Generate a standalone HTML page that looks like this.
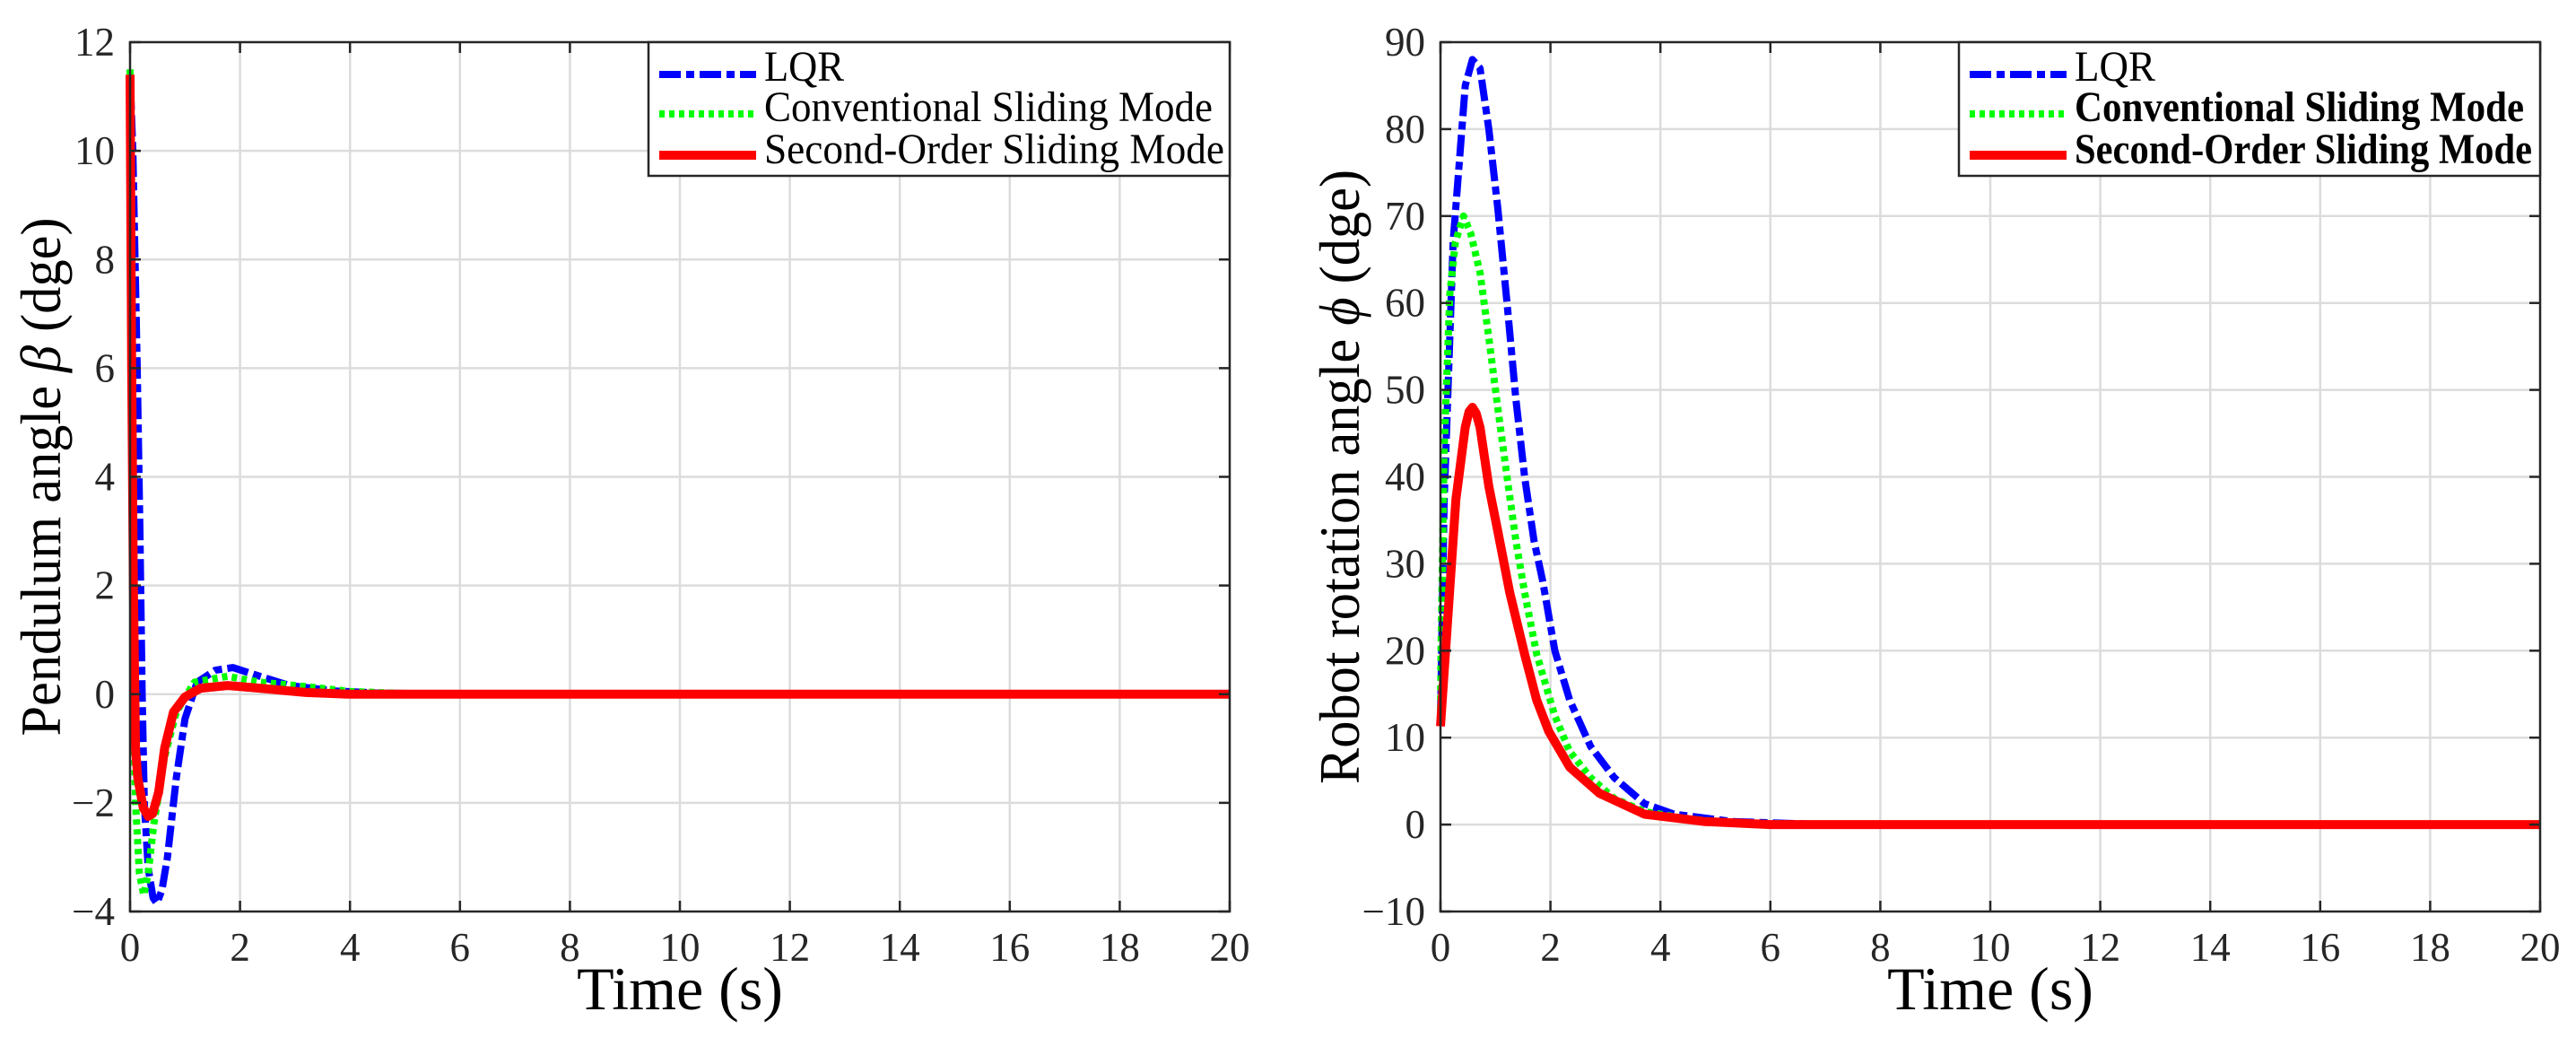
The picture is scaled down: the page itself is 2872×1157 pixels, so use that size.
<!DOCTYPE html>
<html><head><meta charset="utf-8"><style>
html,body{margin:0;padding:0;background:#fff;}
svg{display:block;font-family:"Liberation Serif",serif;}
</style></head><body>
<svg id="chart" width="2872" height="1157" viewBox="0 0 2872 1157" xmlns="http://www.w3.org/2000/svg"></svg>
<script>
// ---- data ----
const leftXTicks = [0,2,4,6,8,10,12,14,16,18,20];
const leftYTicks = [-4,-2,0,2,4,6,8,10,12];
const rightYTicks = [-10,0,10,20,30,40,50,60,70,80,90];
const seriesNames = ["LQR","Conventional Sliding Mode","Second-Order Sliding Mode"];

const betaLqrT = [0,0.05,0.13,0.18,0.22,0.26,0.33,0.42,0.49,0.58,0.68,0.84,1.0,1.22,1.55,1.87,2.36,2.9,3.7,4.5,6,20];
const betaLqrV = [11.4,10,6,3,0,-2,-3.2,-3.75,-3.85,-3.6,-3.0,-1.55,-0.45,0.22,0.44,0.49,0.33,0.16,0.06,0.02,0,0];
const betaCsmT = [0,0.03,0.06,0.1,0.17,0.25,0.33,0.43,0.63,0.84,1.17,1.77,2.36,3.2,4,5,6,20];
const betaCsmV = [11.5,6,0,-2,-3.3,-3.7,-3.3,-2.4,-1.15,-0.33,0.22,0.33,0.22,0.14,0.05,0.01,0,0];
const betaSsmT = [0,0.03,0.06,0.1,0.14,0.24,0.33,0.41,0.52,0.63,0.79,1.0,1.28,1.77,2.36,3.2,4,20];
const betaSsmV = [11.4,6,2,-1,-1.54,-2.09,-2.25,-2.2,-1.8,-0.99,-0.33,-0.05,0.11,0.16,0.11,0.03,0,0];

const phiLqrT = [0,0.065,0.23,0.45,0.58,0.72,0.88,1.04,1.21,1.37,1.53,1.70,1.86,2.08,2.35,2.73,3.16,3.71,4.25,5.3,7,20];
const phiLqrV = [11.9,37,67,85,88,87,80,71,60,49,40,32.7,28,20,14.3,9,5.4,2.4,1.2,0.35,0,0];
const phiCsmT = [0,0.01,0.065,0.17,0.27,0.42,0.55,0.72,0.88,1.04,1.21,1.37,1.53,1.75,2.08,2.35,2.73,3.16,3.71,4.5,5.3,7,20];
const phiCsmV = [12,20,43,61,67,70,68,63.5,56,48,40,32.7,26.7,19.6,12.5,8.4,5.4,3,1.5,0.65,0.2,0,0];
const phiSsmT = [0,0.12,0.28,0.45,0.52,0.58,0.65,0.72,0.88,1.04,1.26,1.53,1.75,1.97,2.35,2.89,3.71,4.8,6,20];
const phiSsmV = [11.3,22.6,37.4,45.7,47.5,48,47.3,45.7,38.9,33.8,26.7,19.6,14.3,10.7,6.6,3.6,1.2,0.35,0,0];

const NS = "http://www.w3.org/2000/svg";
const svg = document.getElementById('chart');
function mk(tag, attrs, parent){
  const e = document.createElementNS(NS, tag);
  for (const k in attrs) e.setAttribute(k, attrs[k]);
  (parent||svg).appendChild(e);
  return e;
}
const styles = [
  {color:"#0000ff", dash:"24,6,9,6", w:8},
  {color:"#00ff00", dash:"6,5", w:8},
  {color:"#ff0000", dash:"", w:10}
];

function panel(cfg){
  const {L,R,T,B,ymin,ymax,yTicks,series,ylabel,ylabelX,ylabelLen,legendX,bold,legTextX,legLens,id} = cfg;
  const g = mk('g',{});
  
  
  const xs = t => L + (t-0)/(20-0)*(R-L);
  const ys = v => B - (v-ymin)/(ymax-ymin)*(B-T);
  const grid = mk('g',{},g);
  
  
  leftXTicks.forEach(t=>{ if(t>0&&t<20) mk('line',{x1:xs(t),x2:xs(t),y1:T,y2:B,stroke:"#dcdcdc","stroke-width":2.5},grid); });
  yTicks.forEach(v=>{ if(v>ymin&&v<ymax) mk('line',{x1:L,x2:R,y1:ys(v),y2:ys(v),stroke:"#dcdcdc","stroke-width":2.5},grid); });
  series.forEach((s,i)=>{
    const pts = s.t.map((t,k)=>xs(t).toFixed(1)+","+ys(s.v[k]).toFixed(1)).join(" ");
    const pl = mk('polyline',{points:pts,fill:"none",stroke:styles[i].color,"stroke-width":styles[i].w,"stroke-linejoin":"round"},g);
    if(styles[i].dash) pl.setAttribute('stroke-dasharray',styles[i].dash);
    
    
  });
  const ax = mk('g',{},g);
  
  
  mk('rect',{x:L,y:T,width:R-L,height:B-T,fill:"none",stroke:"#262626","stroke-width":2.5},ax);
  leftXTicks.forEach(t=>{
    mk('line',{x1:xs(t),x2:xs(t),y1:B,y2:B-12,stroke:"#262626","stroke-width":2.5},ax);
    mk('line',{x1:xs(t),x2:xs(t),y1:T,y2:T+12,stroke:"#262626","stroke-width":2.5},ax);
    const tx = mk('text',{x:xs(t),y:1071,"text-anchor":"middle","font-size":45,fill:"#262626"},ax);
    tx.textContent = t;
    
    
  });
  yTicks.forEach(v=>{
    mk('line',{x1:L,x2:L+12,y1:ys(v),y2:ys(v),stroke:"#262626","stroke-width":2.5},ax);
    mk('line',{x1:R,x2:R-12,y1:ys(v),y2:ys(v),stroke:"#262626","stroke-width":2.5},ax);
    const tx = mk('text',{x:L-17,y:ys(v)+15,"text-anchor":"end","font-size":45,fill:"#262626"},ax);
    tx.textContent = v<0 ? "\u2212"+Math.abs(v) : v;
    
    
  });
  const xt = mk('text',{x:(L+R)/2,y:1125,"text-anchor":"middle","font-size":68,fill:"#000"},g);
  xt.textContent = "Time (s)";
  
  
  const cy = (T+B)/2;
  const yt = mk('text',{x:ylabelX,y:cy,"text-anchor":"middle","font-size":64,fill:"#000",transform:`rotate(-90 ${ylabelX} ${cy})`,textLength:ylabelLen,lengthAdjust:"spacingAndGlyphs"},g);
  yt.innerHTML = ylabel;
  
  
  const lg = mk('g',{},g);
  
  
  mk('rect',{x:legendX,y:T,width:R-legendX,height:196-T,fill:"#fff",stroke:"#262626","stroke-width":2.5},lg);
  const bases=[90,135,182], lineY=[83,127,173];
  seriesNames.forEach((n,i)=>{
    const l = mk('line',{x1:legendX+12,x2:legendX+120,y1:lineY[i],y2:lineY[i],stroke:styles[i].color,"stroke-width":styles[i].w},lg);
    if(styles[i].dash) l.setAttribute('stroke-dasharray',styles[i].dash);
    const tx = mk('text',{x:legTextX,y:bases[i],"font-size":48,fill:"#000",textLength:legLens[i],lengthAdjust:"spacingAndGlyphs"},lg);
    if(bold && i>0) tx.setAttribute('font-weight','bold');
    tx.textContent = n;
    
    
  });
}

panel({id:'pendulum',L:145,R:1371,T:47,B:1016,ymin:-4,ymax:12,yTicks:leftYTicks,
  series:[{t:betaLqrT,v:betaLqrV},{t:betaCsmT,v:betaCsmV},{t:betaSsmT,v:betaSsmV}],
  ylabel:'Pendulum angle <tspan font-style="italic">β</tspan> (dge)',ylabelX:67,ylabelLen:578,
  legendX:723,bold:false,legTextX:852,legLens:[89,500,513]});
panel({id:'rotation',L:1606,R:2832,T:47,B:1016,ymin:-10,ymax:90,yTicks:rightYTicks,
  series:[{t:phiLqrT,v:phiLqrV},{t:phiCsmT,v:phiCsmV},{t:phiSsmT,v:phiSsmV}],
  ylabel:'Robot rotation angle <tspan font-style="italic">ϕ</tspan> (dge)',ylabelX:1515,ylabelLen:685,
  legendX:2184,bold:true,legTextX:2313,legLens:[90,501,510]});
</script>
</body></html>
